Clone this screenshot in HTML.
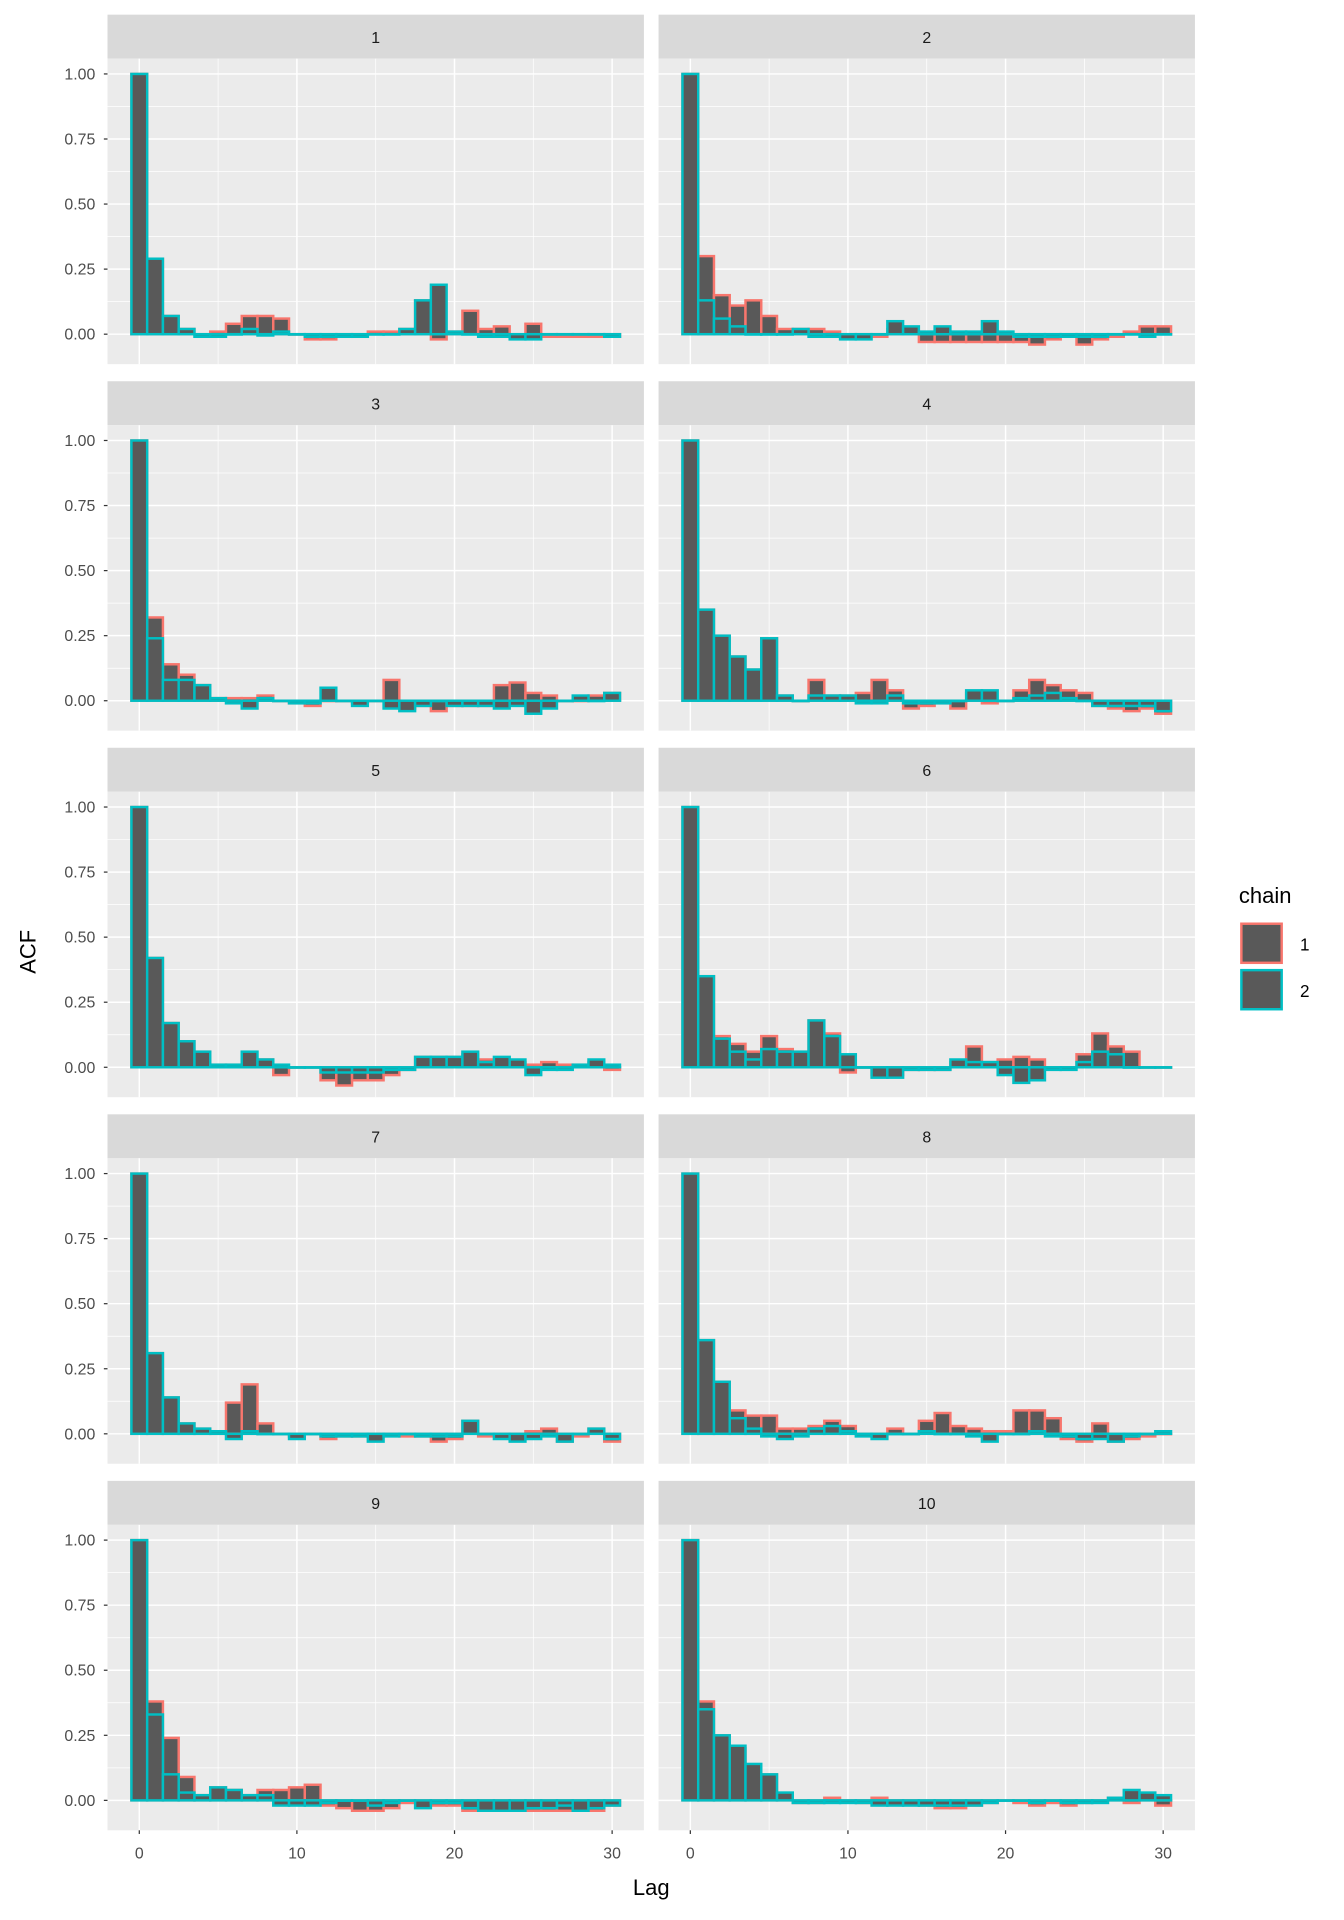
<!DOCTYPE html>
<html><head><meta charset="utf-8"><style>html,body{margin:0;padding:0;background:#fff}svg{display:block}</style></head>
<body>
<svg id="s" width="1344" height="1920" viewBox="0 0 1100 1571.4" xmlns="http://www.w3.org/2000/svg" font-family="Liberation Sans, sans-serif"></svg>
<script>
const D=[
[[1,.29,.07,.02,0,.01,.04,.07,.07,.06,0,-.02,-.02,-.01,-.01,.01,.01,.02,.13,-.02,.01,.09,.02,.03,-.01,.04,-.01,-.01,-.01,-.01,-.01],
 [1,.29,.07,.02,-.01,-.01,0,.02,-.005,.01,0,-.01,-.01,-.01,-.01,0,0,.02,.13,.19,.01,0,-.01,-.01,-.02,-.02,0,0,0,0,-.01]],
[[1,.30,.15,.11,.13,.07,.02,.02,.02,.01,-.01,-.01,-.01,.02,.01,-.03,-.03,-.03,-.03,-.03,-.03,-.03,-.04,-.02,-.01,-.04,-.02,-.01,.01,.03,.03],
 [1,.13,.06,.03,0,0,0,.02,-.01,-.01,-.02,-.02,0,.05,.03,.01,.03,.01,.01,.05,.01,-.01,-.01,-.01,-.01,-.01,-.01,0,0,-.01,0]],
[[1,.32,.14,.10,.06,.01,.01,.01,.02,0,-.01,-.02,0,0,-.01,0,.08,-.03,-.02,-.04,-.02,-.02,-.02,.06,.07,.03,.02,0,0,.02,.03],
 [1,.24,.08,.08,.06,.01,-.01,-.03,.01,0,-.01,-.01,.05,0,-.02,0,-.03,-.04,-.02,0,-.02,-.02,-.02,-.03,-.02,-.05,-.03,0,.02,0,.03]],
[[1,.35,.25,.17,.12,.24,.02,0,.08,.02,.02,.03,.08,.04,-.03,-.02,-.01,-.03,.03,-.01,0,.04,.08,.06,.04,.03,-.02,-.03,-.04,-.03,-.05],
 [1,.35,.25,.17,.12,.24,.02,0,.02,.02,.02,-.01,-.01,.02,-.01,-.01,-.01,0,.04,.04,0,.01,.02,.03,.01,0,-.02,-.02,-.02,-.02,-.04]],
[[1,.42,.17,.10,.06,.01,.01,.03,.03,-.03,0,0,-.05,-.07,-.05,-.05,-.03,-.01,.04,.04,.04,.05,.03,.03,.02,.01,.02,.01,.01,.02,-.01],
 [1,.42,.17,.10,.06,.01,.01,.06,.03,.01,0,0,-.02,-.02,-.02,-.02,-.01,-.01,.04,.04,.04,.06,.02,.04,.03,-.03,-.01,-.01,.01,.03,.01]],
[[1,.35,.12,.09,.06,.12,.07,.06,.18,.13,-.02,0,-.03,-.03,-.01,-.01,-.01,.02,.08,.02,.03,.04,.03,0,0,.05,.13,.08,.06,0,0],
 [1,.35,.11,.06,.03,.07,.06,.06,.18,.12,.05,0,-.04,-.04,-.01,-.01,-.01,.03,.02,.02,-.03,-.06,-.05,-.01,-.01,.02,.06,.05,0,0,0]],
[[1,.31,.14,.04,.02,.01,.12,.19,.04,0,-.01,0,-.02,-.01,-.01,-.01,0,-.01,-.01,-.03,-.02,.05,-.01,-.01,-.02,.01,.02,-.03,-.01,.02,-.03],
 [1,.31,.14,.04,.02,.01,-.02,.01,0,0,-.02,0,-.01,-.01,-.01,-.03,-.01,0,-.01,-.01,-.01,.05,0,-.02,-.03,-.02,-.01,-.03,0,.02,-.02]],
[[1,.36,.20,.09,.07,.07,.02,.02,.03,.05,.03,0,-.01,.02,0,.05,.08,.03,.02,.01,.01,.09,.09,.06,-.02,-.03,.04,-.03,-.02,-.01,0],
 [1,.36,.20,.06,.02,-.01,-.02,-.01,.02,.03,.01,-.01,-.02,0,0,.01,0,0,-.01,-.03,0,0,.01,-.01,-.01,-.02,-.02,-.03,-.01,0,.01]],
[[1,.38,.24,.09,.02,.05,.04,.02,.04,.04,.05,.06,-.02,-.03,-.04,-.04,-.03,-.01,-.01,-.02,-.02,-.04,-.03,-.04,-.02,-.04,-.04,-.04,-.04,-.04,-.02],
 [1,.33,.10,.03,.02,.05,.04,.02,.02,-.02,-.02,-.02,-.01,0,0,-.02,-.01,0,-.03,-.01,-.01,-.03,-.04,-.04,-.04,-.03,-.03,-.02,-.04,-.03,-.02]],
[[1,.38,.25,.20,.13,.10,.02,-.01,-.01,.01,0,-.01,.01,0,-.01,-.02,-.03,-.03,-.02,-.01,0,-.01,-.02,-.01,-.02,-.01,0,.01,-.01,.02,-.02],
 [1,.35,.25,.21,.14,.10,.03,-.01,-.01,-.01,-.01,-.01,-.02,-.02,-.02,-.02,-.02,-.02,-.02,-.01,0,0,-.01,0,-.01,-.01,-.01,.01,.04,.03,.02]]];
let h='';
const cols=['#F8766D','#00BFC4'];
for(let p=0;p<10;p++){
 const c=p%2,r=Math.floor(p/2);
 const L=c?539:88,R=L+439,T=12+300*r;
 const x0=c?565:114;
 const X=l=>x0+12.9*l, Y=v=>T+261.5-v*213;
 h+=`<rect x="${L}" y="${T}" width="439" height="36" fill="#d9d9d9"/>`;
 h+=`<text x="${(L+R)/2}" y="${T+23}" font-size="13" text-anchor="middle" fill="#1a1a1a">${p+1}</text>`;
 h+=`<rect x="${L}" y="${T+36}" width="439" height="250" fill="#ebebeb"/>`;
 for(let v=0.125;v<1.1;v+=0.25)h+=`<line x1="${L}" x2="${R}" y1="${Y(v)}" y2="${Y(v)}" stroke="#fff" stroke-width="0.6"/>`;
 for(const l of [5,15,25])h+=`<line y1="${T+36}" y2="${T+286}" x1="${X(l)}" x2="${X(l)}" stroke="#fff" stroke-width="0.6"/>`;
 for(const v of [0,.25,.5,.75,1])h+=`<line x1="${L}" x2="${R}" y1="${Y(v)}" y2="${Y(v)}" stroke="#fff" stroke-width="1.2"/>`;
 for(const l of [0,10,20,30])h+=`<line y1="${T+36}" y2="${T+286}" x1="${X(l)}" x2="${X(l)}" stroke="#fff" stroke-width="1.2"/>`;
 if(c==0)for(const v of [0,.25,.5,.75,1]){h+=`<line x1="${L-3}" x2="${L}" y1="${Y(v)}" y2="${Y(v)}" stroke="#333" stroke-width="1"/>`;
  h+=`<text x="${L-10}" y="${Y(v)+4.5}" font-size="13" text-anchor="end" fill="#4d4d4d">${v.toFixed(2)}</text>`;}
 if(r==4)for(const l of [0,10,20,30]){h+=`<line y1="${T+286}" y2="${T+289}" x1="${X(l)}" x2="${X(l)}" stroke="#333"/>`;
  h+=`<text x="${X(l)}" y="${T+309}" font-size="13" text-anchor="middle" fill="#4d4d4d">${l}</text>`;}
 for(let ch=0;ch<2;ch++){D[p][ch].forEach((v,l)=>{const y1=Y(Math.max(v,0)),y2=Y(Math.min(v,0));
  h+=`<rect x="${X(l)-6.45}" y="${y1}" width="12.9" height="${Math.max(y2-y1,0.3)}" fill="#595959" stroke="${cols[ch]}" stroke-width="2"/>`;});}
}
h+=`<text x="533" y="1551" font-size="18" text-anchor="middle" fill="#000">Lag</text>`;
h+=`<text transform="translate(29,779) rotate(-90)" font-size="18" text-anchor="middle" fill="#000">ACF</text>`;
h+=`<text x="1014" y="739" font-size="18" fill="#000">chain</text>`;
h+=`<rect x="1016" y="756" width="33" height="32" fill="#595959" stroke="#F8766D" stroke-width="2"/>`;
h+=`<rect x="1016" y="794" width="33" height="32" fill="#595959" stroke="#00BFC4" stroke-width="2"/>`;
h+=`<text x="1064" y="778" font-size="14" fill="#000">1</text><text x="1064" y="816" font-size="14" fill="#000">2</text>`;
document.getElementById('s').innerHTML=h;
</script>
</body></html>
